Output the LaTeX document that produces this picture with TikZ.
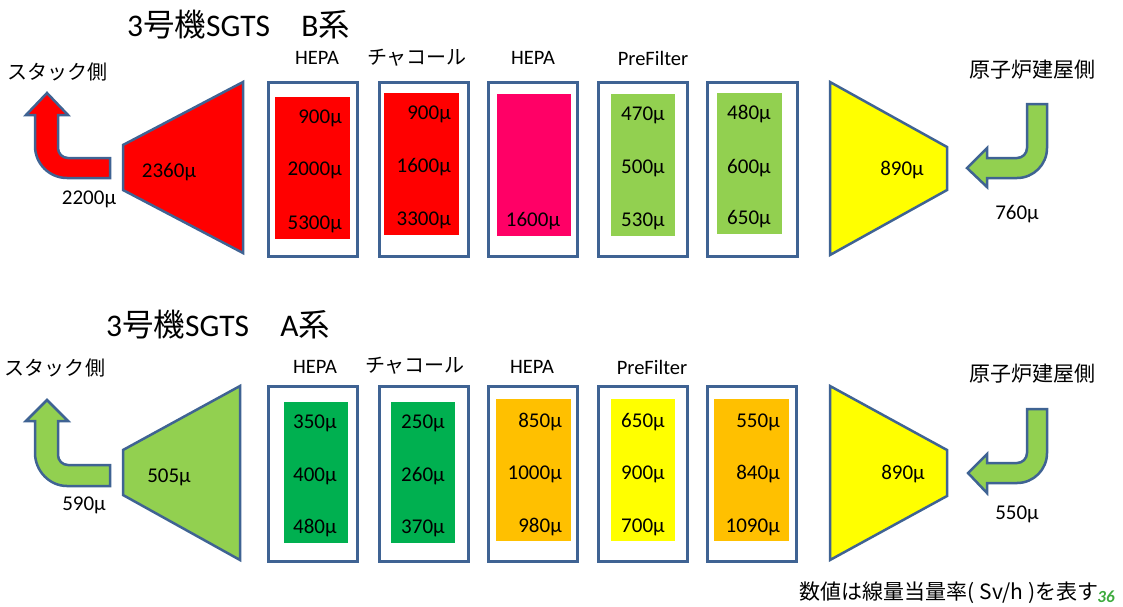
\documentclass[tikz,border=0pt]{standalone}
\usepackage{fontspec}
\setmainfont{Carlito}
\newfontfamily\jp{Noto Sans CJK JP}
\definecolor{edge}{HTML}{3F6393}
\definecolor{cred}{HTML}{FF0000}
\definecolor{cpink}{HTML}{FF0066}
\definecolor{clgreen}{HTML}{92D050}
\definecolor{cdgreen}{HTML}{00B050}
\definecolor{corange}{HTML}{FFC000}
\definecolor{cyellow}{HTML}{FFFF00}
\definecolor{pagegreen}{HTML}{3DAA3D}
\begin{document}
\begin{tikzpicture}[x=1pt,y=-1pt,
  shapeline/.style={draw=edge, line width=2.5pt, line join=miter},
  boxline/.style={draw=edge, line width=3pt, fill=white},
  val/.style={font=\fontsize{21}{24}\selectfont, inner sep=0pt},
  collabel/.style={font=\fontsize{20.5}{24}\selectfont, inner sep=0pt},
  jplabel/.style={font=\jp\fontsize{20}{24}\selectfont, inner sep=0pt},
  titletext/.style={font=\fontsize{31.5}{34}\selectfont, inner sep=0pt, anchor=west}]
\useasboundingbox (0,0) rectangle (1123,606);

% ================= B system (top) =================
\node[titletext] (titleB) at (127,25) {3{\jp 号機}SGTS\hspace{1em}B{\jp 系}};
\node[jplabel] (stackB) at (57,72) {\jp スタック側};
\node[jplabel, font=\jp\fontsize{21}{24}\selectfont] (reactB) at (1032,70) {\jp 原子炉建屋側};

% left arrow (red)
\draw[shapeline, fill=cred] (110,158) -- (68,158) .. controls (62.5,158) and (58,153.5) .. (58,148)
  -- (58,115) -- (68,115) -- (47,93) -- (26,115) -- (35,115) -- (35,146)
  .. controls (35,163.7) and (49.3,178) .. (67,178) -- (110,178) -- cycle;
% left trapezoid
\draw[shapeline, fill=cred] (123,145) -- (243,82) -- (243,253) -- (123,190) -- cycle;
\node[val, anchor=base] (vB1) at (169,177) {2360µ};
\node[val, anchor=base] (vB0) at (89,204) {2200µ};

% filter boxes
\draw[boxline] (268,82) rectangle (357,256);
\fill[cred] (275,97) rectangle (350,239);
\draw[boxline] (379,82) rectangle (468,256);
\fill[cred] (384,93) rectangle (459,235);
\draw[boxline] (488,82) rectangle (577,256);
\fill[cpink] (497,94) rectangle (571,236);
\draw[boxline] (598,82) rectangle (687,256);
\fill[clgreen] (611,94) rectangle (675,236);
\draw[boxline] (707,82) rectangle (797,256);
\fill[clgreen] (717,93) rectangle (782,234);

\node[collabel] (hB1) at (317,58) {HEPA};
\node[jplabel] (cB) at (417,58) {チャコール};
\node[collabel] (hB2) at (533,58) {HEPA};
\node[collabel] (pB) at (653,58) {PreFilter};

\node[val, anchor=base east] (b11) at (342,123) {900µ};
\node[val, anchor=base east] (b12) at (342,175) {2000µ};
\node[val, anchor=base east] (b13) at (342,229) {5300µ};
\node[val, anchor=base east] (b21) at (451,119) {900µ};
\node[val, anchor=base east] (b22) at (451,172) {1600µ};
\node[val, anchor=base east] (b23) at (451,225) {3300µ};
\node[val, anchor=base] (b31) at (533,226) {1600µ};
\node[val, anchor=base west] (b41) at (621,120) {470µ};
\node[val, anchor=base west] (b42) at (621,173) {500µ};
\node[val, anchor=base west] (b43) at (621,226) {530µ};
\node[val, anchor=base west] (b51) at (727,119) {480µ};
\node[val, anchor=base west] (b52) at (727,173) {600µ};
\node[val, anchor=base west] (b53) at (727,224) {650µ};

% right trapezoid
\draw[shapeline, fill=cyellow] (830,82) -- (947,147) -- (947,190) -- (830,255) -- cycle;
\node[val, anchor=base] (vB7) at (902,175) {890µ};
% right arrow (green)
\draw[shapeline, fill=clgreen] (1047,104) -- (1047,148) .. controls (1047,164.6) and (1033.6,178) .. (1017,178)
  -- (987,178) -- (987,187) -- (967,168) -- (987,148) -- (987,158) -- (1017,158)
  .. controls (1022.5,158) and (1027,153.5) .. (1027,148) -- (1027,104) -- cycle;
\node[val, anchor=base] (vB8) at (1017,219) {760µ};

% ================= A system (bottom) =================
\node[titletext] (titleA) at (106,325) {3{\jp 号機}SGTS\hspace{1em}A{\jp 系}};
\node[jplabel] (stackA) at (55,368) {\jp スタック側};
\node[jplabel, font=\jp\fontsize{21}{24}\selectfont] (reactA) at (1032,374) {\jp 原子炉建屋側};

% left arrow (green)
\draw[shapeline, fill=clgreen] (110,465) -- (68,465) .. controls (62.5,465) and (58,460.5) .. (58,455)
  -- (58,421) -- (68,421) -- (47,400) -- (26,421) -- (35,421) -- (35,453)
  .. controls (35,470.7) and (49.3,486) .. (67,486) -- (110,486) -- cycle;
% left trapezoid
\draw[shapeline, fill=clgreen] (123,450) -- (240,386) -- (240,560) -- (123,495) -- cycle;
\node[val, anchor=base] (vA1) at (169,482) {505µ};
\node[val, anchor=base] (vA0) at (84,510) {590µ};

% filter boxes
\draw[boxline] (268,386) rectangle (357,561);
\fill[cdgreen] (284,402) rectangle (348,543);
\draw[boxline] (379,386) rectangle (468,561);
\fill[cdgreen] (391,402) rectangle (455,543);
\draw[boxline] (488,386) rectangle (577,561);
\fill[corange] (496,399) rectangle (571,541);
\draw[boxline] (598,386) rectangle (687,561);
\fill[cyellow] (611,399) rectangle (675,541);
\draw[boxline] (707,386) rectangle (796,561);
\fill[corange] (714,399) rectangle (789,541);

\node[collabel] (hA1) at (315,367) {HEPA};
\node[jplabel] (cA) at (415,366) {チャコール};
\node[collabel] (hA2) at (532,367) {HEPA};
\node[collabel] (pA) at (652,367) {PreFilter};

\node[val, anchor=base west] (a11) at (293,428) {350µ};
\node[val, anchor=base west] (a12) at (293,481) {400µ};
\node[val, anchor=base west] (a13) at (293,533) {480µ};
\node[val, anchor=base west] (a21) at (401,428) {250µ};
\node[val, anchor=base west] (a22) at (401,481) {260µ};
\node[val, anchor=base west] (a23) at (401,533) {370µ};
\node[val, anchor=base east] (a31) at (562,427) {850µ};
\node[val, anchor=base east] (a32) at (562,479) {1000µ};
\node[val, anchor=base east] (a33) at (562,532) {980µ};
\node[val, anchor=base west] (a41) at (621,427) {650µ};
\node[val, anchor=base west] (a42) at (621,479) {900µ};
\node[val, anchor=base west] (a43) at (621,532) {700µ};
\node[val, anchor=base east] (a51) at (780,427) {550µ};
\node[val, anchor=base east] (a52) at (780,479) {840µ};
\node[val, anchor=base east] (a53) at (780,532) {1090µ};

% right trapezoid
\draw[shapeline, fill=cyellow] (830,386) -- (947,450) -- (947,496) -- (830,560) -- cycle;
\node[val, anchor=base] (vA7) at (903,479) {890µ};
% right arrow (green)
\draw[shapeline, fill=clgreen] (1047,409) -- (1047,453) .. controls (1047,469.6) and (1033.6,483) .. (1017,483)
  -- (987,483) -- (987,493) -- (968,473) -- (987,454) -- (987,463) -- (1017,463)
  .. controls (1022.5,463) and (1027,458.5) .. (1027,453) -- (1027,409) -- cycle;
\node[val, anchor=base] (vA8) at (1017,519) {550µ};

% footer
\node[font=\jp\fontsize{21}{22}\selectfont, inner sep=0pt, anchor=east] (note) at (1099,593) {数値は線量当量率(\hspace{0.25em}Sv/h\hspace{0.25em})を表す};
\node[font=\fontsize{17}{18}\selectfont\bfseries\itshape, text=pagegreen, inner sep=0pt] (pg) at (1106,597) {36};
\end{tikzpicture}
\end{document}
